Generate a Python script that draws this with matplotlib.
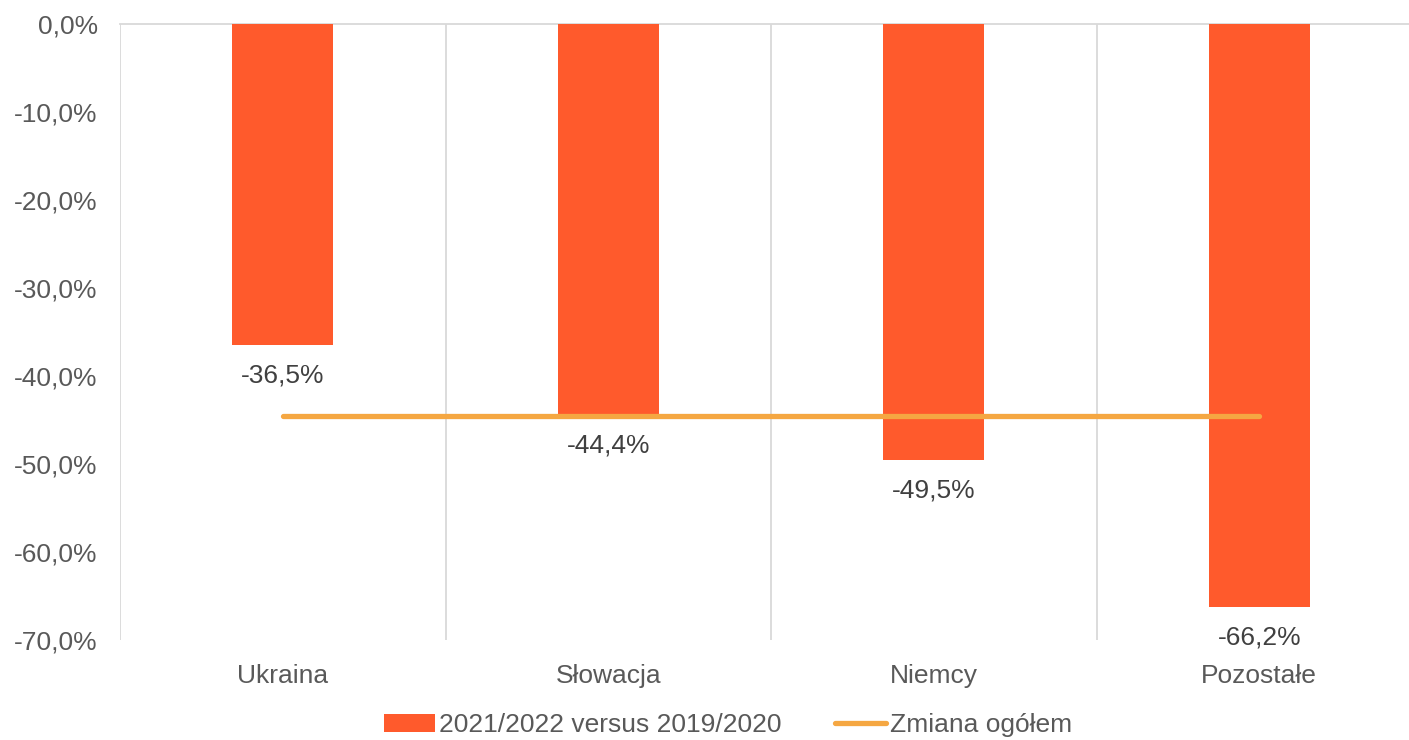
import numpy as np
import matplotlib.pyplot as plt
from matplotlib.patches import Patch
from matplotlib.lines import Line2D

kraje = ["Ukraina", "Słowacja", "Niemcy", "Pozostałe"]
zmiana = [-36.5, -44.4, -49.5, -66.2]
zmiana_ogolem = [-44.5, -44.5, -44.5, -44.5]

kolor_slupka = "#FF5A2C"
kolor_linii = "#F5A742"

plt.rcParams['font.family'] = ['Liberation Sans', 'DejaVu Sans']
fs = 19

fig = plt.figure(figsize=(14.09, 7.40), dpi=100)
ax = fig.add_axes([120 / 1409, 1 - 640 / 740, 1302 / 1409, 616 / 740])

x = np.arange(len(kraje))
ax.bar(x, zmiana, width=0.31, color=kolor_slupka, zorder=3)
ax.plot(x, zmiana_ogolem, color=kolor_linii, lw=3.8, solid_capstyle='round', zorder=4)

for xi, v in zip(x, zmiana):
    ax.annotate(f"{v:.1f}%".replace(".", ","), (xi, v), xytext=(0, -22),
                textcoords='offset points', ha='center', va='center',
                fontsize=fs, color='#404040')

ax.set_xlim(-0.5, len(kraje) - 0.5)
ax.set_ylim(-70, 0)
yt = np.arange(0, -71, -10)
ax.set_yticks(yt)
ax.set_yticklabels([f"{v:.1f}%".replace(".", ",") for v in yt])
ax.set_xticks(x)
ax.set_xticklabels(kraje)
ax.tick_params(axis='y', length=0, pad=16, labelsize=fs, labelcolor='#595959')
ax.tick_params(axis='x', length=0, pad=17, labelsize=fs, labelcolor='#595959')

for b in np.arange(-0.5, len(kraje), 1.0):
    ax.axvline(b, color='#D9D9D9', lw=1.3, zorder=1)

for s in ['left', 'right', 'bottom']:
    ax.spines[s].set_visible(False)
ax.spines['top'].set_color('#D9D9D9')
ax.spines['top'].set_linewidth(1.3)

uchwyty = [Patch(facecolor=kolor_slupka, edgecolor='none'),
           Line2D([0], [0], color=kolor_linii, lw=3.8, solid_capstyle='round')]
fig.legend(uchwyty, ["2021/2022 versus 2019/2020", "Zmiana ogółem"],
           loc='center', bbox_to_anchor=(728 / 1409, 1 - 725 / 740), ncol=2,
           frameon=False, fontsize=fs, labelcolor='#595959',
           handlelength=1.95, handletextpad=0.15, columnspacing=2.0,
           handleheight=0.65)

fig.savefig("out.png", dpi=100)
